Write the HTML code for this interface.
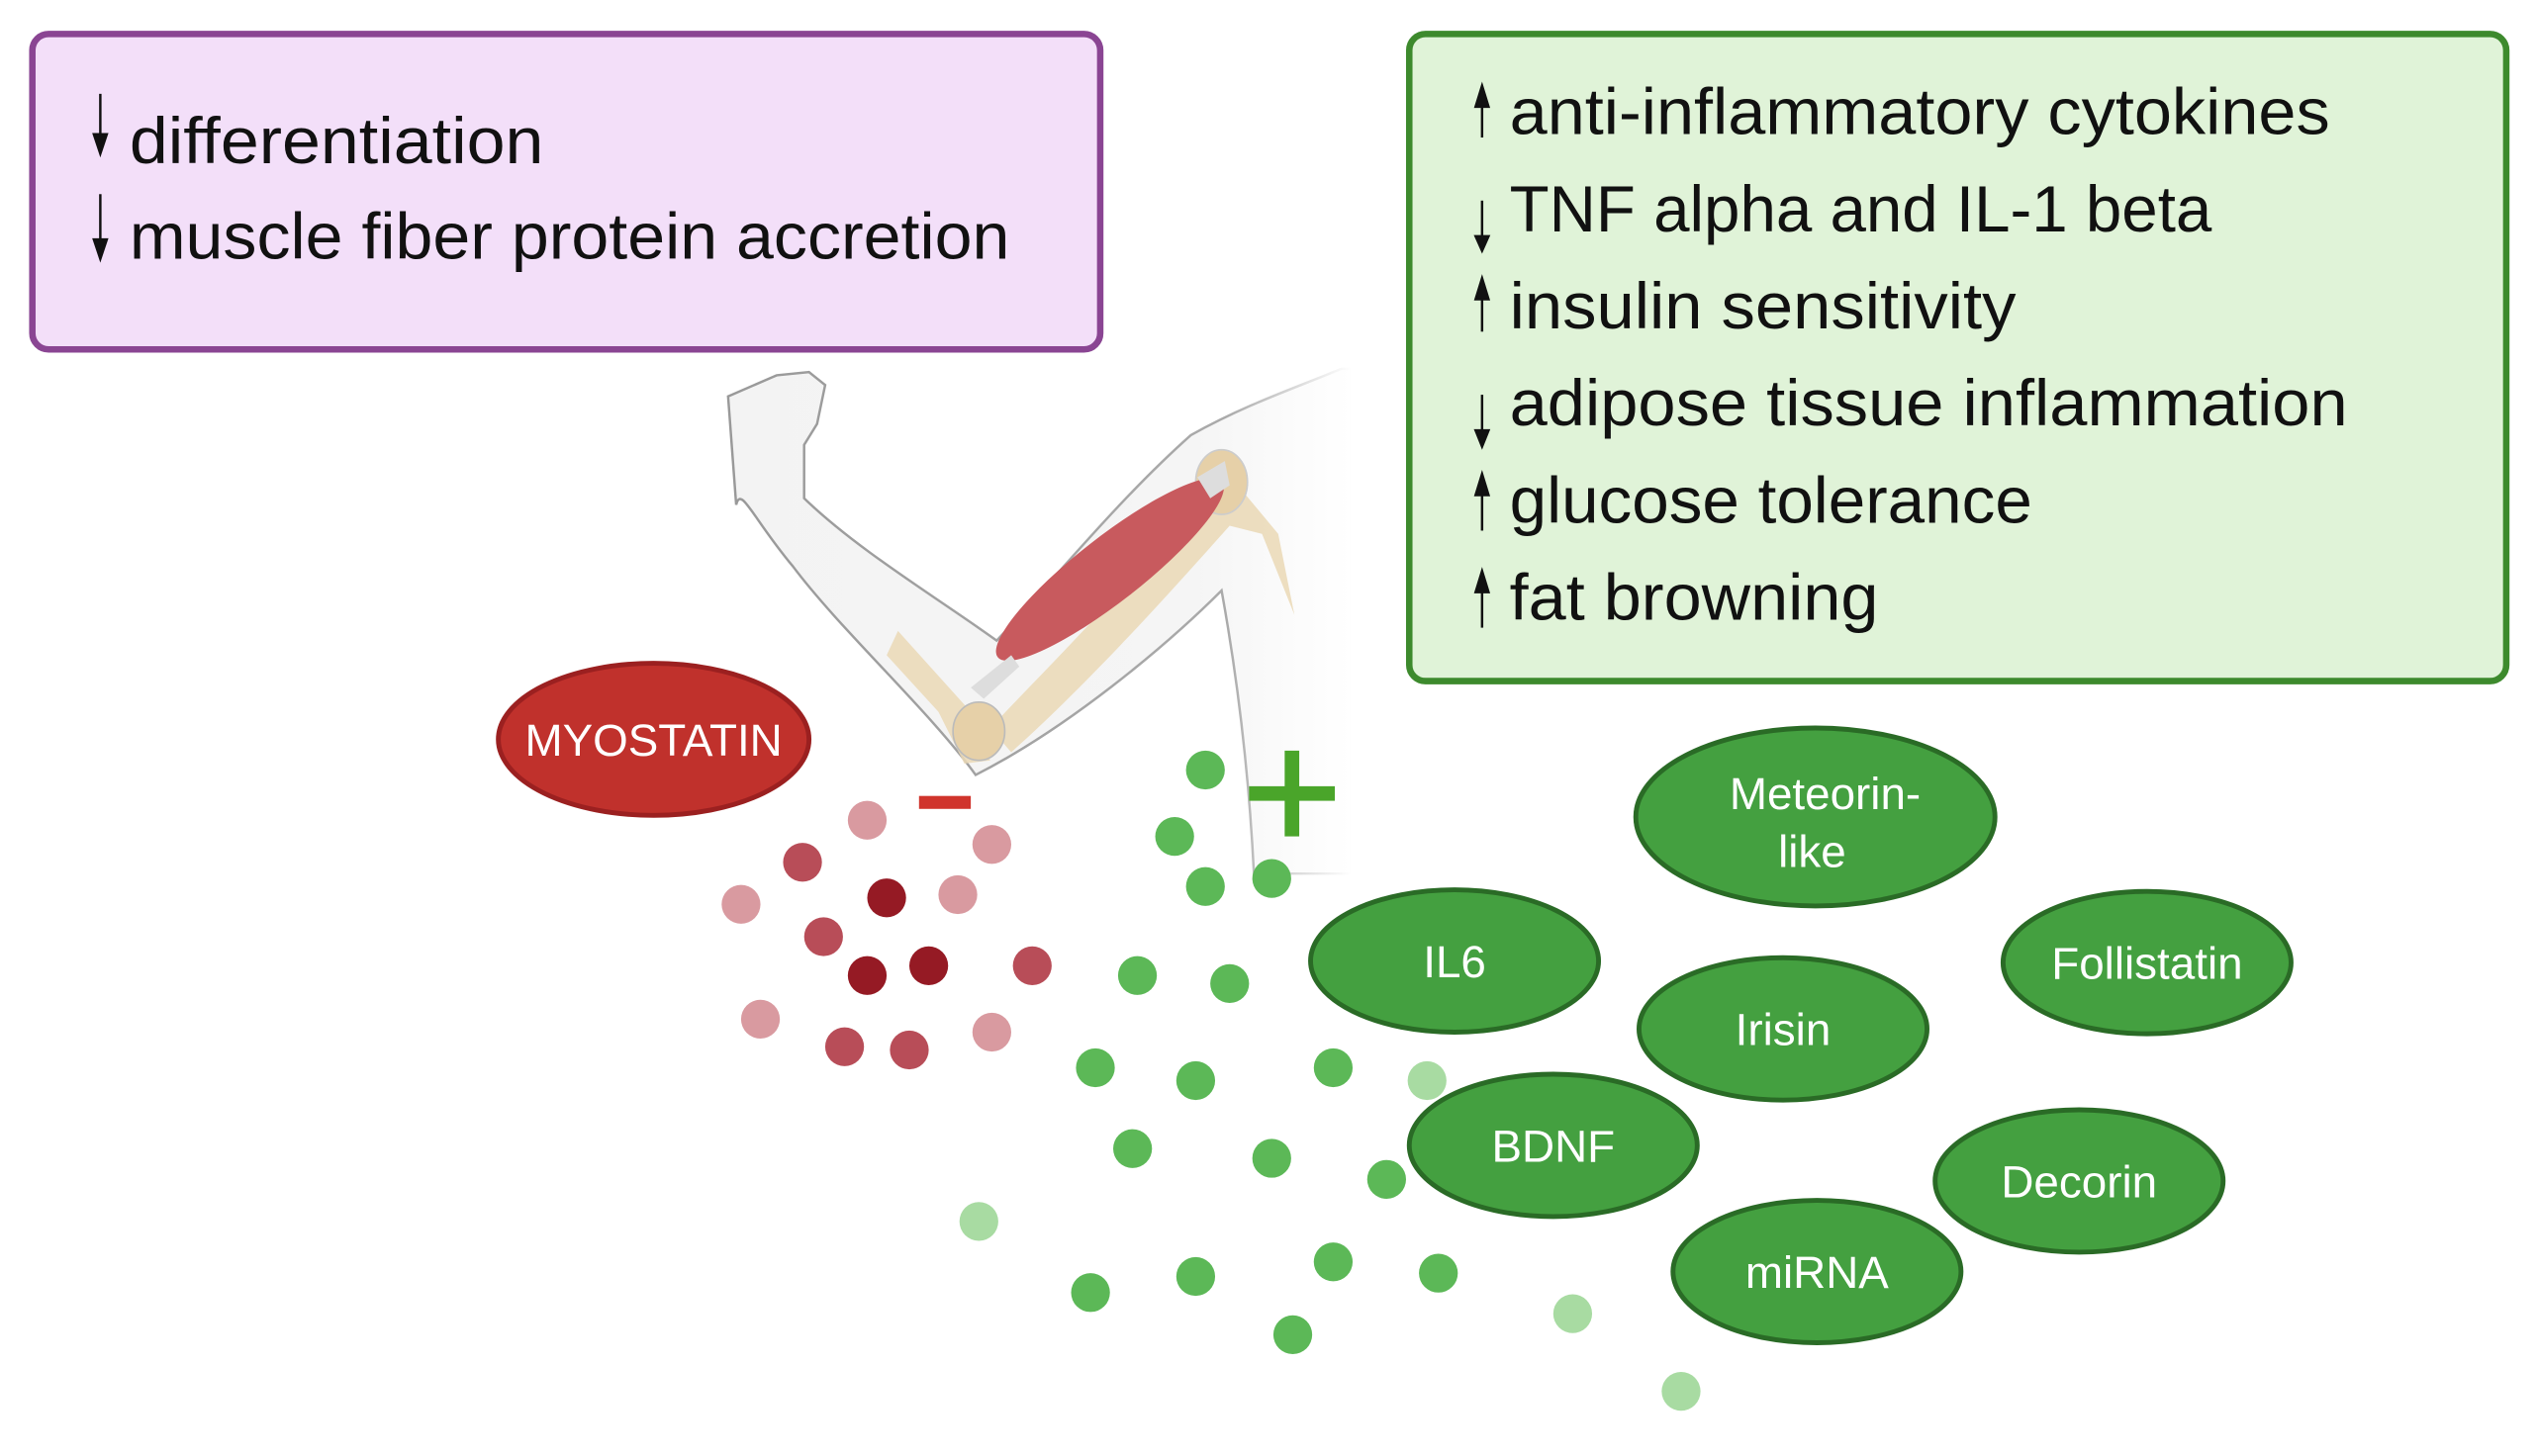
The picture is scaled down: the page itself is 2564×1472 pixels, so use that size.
<!DOCTYPE html>
<html><head><meta charset="utf-8"><style>
html,body{margin:0;padding:0;background:#fff;}
svg{display:block;}
text{font-family:"Liberation Sans",sans-serif;}
</style></head><body>
<svg width="2564" height="1472" viewBox="0 0 1568 900" preserveAspectRatio="none" xmlns="http://www.w3.org/2000/svg">
<defs>
<linearGradient id="fade" x1="0" y1="0" x2="1" y2="0">
<stop offset="0" stop-color="#f3f3f3"/><stop offset="0.75" stop-color="#f5f5f5"/><stop offset="1" stop-color="#ffffff"/>
</linearGradient>
<linearGradient id="fadeS" x1="0" y1="0" x2="1" y2="0">
<stop offset="0" stop-color="#999"/><stop offset="0.8" stop-color="#aaa"/><stop offset="1" stop-color="#fff"/>
</linearGradient>
</defs>
<!-- purple box -->
<rect x="20" y="21" width="660" height="195" rx="10" fill="#f3dff9" stroke="#8a4593" stroke-width="4"/>
<g fill="#111">
<text x="80" y="101" font-size="40" textLength="256" lengthAdjust="spacingAndGlyphs">differentiation</text>
<text x="80" y="160" font-size="40" textLength="544" lengthAdjust="spacingAndGlyphs">muscle fiber protein accretion</text>
</g>
<g stroke="#111" stroke-width="1.5" fill="#111">
<line x1="62" y1="58" x2="62" y2="88"/><path d="M58,83 L66,83 L62,95 z"/>
<line x1="62" y1="120" x2="62" y2="152"/><path d="M58,148 L66,148 L62,160 z"/>
</g>
<!-- green box -->
<rect x="871" y="21" width="678" height="400" rx="10" fill="#e0f3d8" stroke="#3d8a2d" stroke-width="4"/>
<g fill="#111" font-size="40">
<text x="933" y="83" textLength="507" lengthAdjust="spacingAndGlyphs">anti-inflammatory cytokines</text>
<text x="933" y="143" textLength="434" lengthAdjust="spacingAndGlyphs">TNF alpha and IL-1 beta</text>
<text x="933" y="203" textLength="313" lengthAdjust="spacingAndGlyphs">insulin sensitivity</text>
<text x="933" y="263" textLength="518" lengthAdjust="spacingAndGlyphs">adipose tissue inflammation</text>
<text x="933" y="323" textLength="323" lengthAdjust="spacingAndGlyphs">glucose tolerance</text>
<text x="933" y="383" textLength="228" lengthAdjust="spacingAndGlyphs">fat browning</text>
</g>
<g stroke="#111" stroke-width="1.5" fill="#111">
<line x1="916" y1="62" x2="916" y2="85"/><path d="M912,66 L920,66 L916,53 z"/>
<line x1="916" y1="124" x2="916" y2="148"/><path d="M912,146 L920,146 L916,155 z"/>
<line x1="916" y1="181" x2="916" y2="205"/><path d="M912,185 L920,185 L916,172 z"/>
<line x1="916" y1="244" x2="916" y2="268"/><path d="M912,266 L920,266 L916,276 z"/>
<line x1="916" y1="302" x2="916" y2="328"/><path d="M912,306 L920,306 L916,293 z"/>
<line x1="916" y1="362" x2="916" y2="388"/><path d="M912,366 L920,366 L916,353 z"/>
</g>
<!-- arm -->
<path d="M450,245 L480,232 L500,230 L510,238 L505,262 L497,275 L497,308 C530,340 580,370 616,396 C650,360 690,310 736,269 C770,250 800,240 829,228 L835,228 L835,540 L775,540 C772,480 765,420 755,365 C720,400 660,450 603,479 C575,440 520,390 490,350 C465,320 458,300 455,312 Z" fill="url(#fade)" stroke="url(#fadeS)" stroke-width="1.5"/>
<!-- forearm bones -->
<path d="M555,390 L600,440 L612,470 L596,472 L580,440 L548,405 Z" fill="#ead8b5" opacity="0.85"/>
<!-- humerus -->
<path d="M612,450 C650,410 700,360 740,310 L765,300 L790,330 L800,380 L780,330 L760,325 C720,370 670,425 625,465 Z" fill="#ead8b5" opacity="0.85"/>
<ellipse cx="605" cy="452" rx="16" ry="18" fill="#e6d0a8" stroke="#bbb"/>
<ellipse cx="755" cy="298" rx="16" ry="20" fill="#e6d0a8" stroke="#ccc"/>
<!-- muscle -->
<ellipse cx="686" cy="352" rx="88" ry="20" transform="rotate(-38 686 352)" fill="#c85a5e"/>
<path d="M600,425 L625,405 L630,412 L608,432 Z" fill="#ddd"/>
<path d="M740,295 L757,285 L760,300 L748,308 Z" fill="#ddd"/>
<!-- myostatin -->
<ellipse cx="404" cy="457" rx="96" ry="47" fill="#c0312c" stroke="#9b2020" stroke-width="3"/>
<text x="404" y="467" font-size="28" fill="#fff" text-anchor="middle">MYOSTATIN</text>
<!-- minus / plus -->
<rect x="568" y="492" width="32" height="8" fill="#d0342c"/>
<rect x="772" y="486" width="53" height="9" fill="#4aa52a"/>
<rect x="794" y="464" width="9" height="53" fill="#4aa52a"/>
<!-- red dots -->
<g>
<circle cx="536" cy="507" r="12" fill="#d99aa0"/>
<circle cx="613" cy="522" r="12" fill="#d99aa0"/>
<circle cx="496" cy="533" r="12" fill="#b84d58"/>
<circle cx="548" cy="555" r="12" fill="#951a24"/>
<circle cx="592" cy="553" r="12" fill="#d99aa0"/>
<circle cx="458" cy="559" r="12" fill="#d99aa0"/>
<circle cx="509" cy="579" r="12" fill="#b84d58"/>
<circle cx="574" cy="597" r="12" fill="#951a24"/>
<circle cx="536" cy="603" r="12" fill="#951a24"/>
<circle cx="638" cy="597" r="12" fill="#b84d58"/>
<circle cx="470" cy="630" r="12" fill="#d99aa0"/>
<circle cx="522" cy="647" r="12" fill="#b84d58"/>
<circle cx="562" cy="649" r="12" fill="#b84d58"/>
<circle cx="613" cy="638" r="12" fill="#d99aa0"/>
</g>
<!-- green dots -->
<g fill="#5cb857">
<circle cx="745" cy="476" r="12"/><circle cx="726" cy="517" r="12"/><circle cx="745" cy="548" r="12"/>
<circle cx="786" cy="543" r="12"/><circle cx="703" cy="603" r="12"/><circle cx="760" cy="608" r="12"/>
<circle cx="677" cy="660" r="12"/><circle cx="739" cy="668" r="12"/><circle cx="824" cy="660" r="12"/>
<circle cx="700" cy="710" r="12"/><circle cx="786" cy="716" r="12"/><circle cx="857" cy="729" r="12"/>
<circle cx="674" cy="799" r="12"/><circle cx="739" cy="789" r="12"/><circle cx="824" cy="780" r="12"/>
<circle cx="889" cy="787" r="12"/><circle cx="799" cy="825" r="12"/>
</g>
<g fill="#a8dba2">
<circle cx="882" cy="668" r="12"/><circle cx="605" cy="755" r="12"/><circle cx="972" cy="812" r="12"/><circle cx="1039" cy="860" r="12"/>
</g>
<!-- green ellipses -->
<g fill="#44a040" stroke="#2a6b26" stroke-width="3">
<ellipse cx="1122" cy="505" rx="111" ry="55"/>
<ellipse cx="899" cy="594" rx="89" ry="44"/>
<ellipse cx="1327" cy="595" rx="89" ry="44"/>
<ellipse cx="1102" cy="636" rx="89" ry="44"/>
<ellipse cx="960" cy="708" rx="89" ry="44"/>
<ellipse cx="1285" cy="730" rx="89" ry="44"/>
<ellipse cx="1123" cy="786" rx="89" ry="44"/>
</g>
<g fill="#fff" font-size="28" text-anchor="middle">
<text x="1128" y="500">Meteorin-</text>
<text x="1120" y="536">like</text>
<text x="899" y="604">IL6</text>
<text x="1327" y="605">Follistatin</text>
<text x="1102" y="646">Irisin</text>
<text x="960" y="718">BDNF</text>
<text x="1285" y="740">Decorin</text>
<text x="1123" y="796">miRNA</text>
</g>
</svg>
</body></html>
